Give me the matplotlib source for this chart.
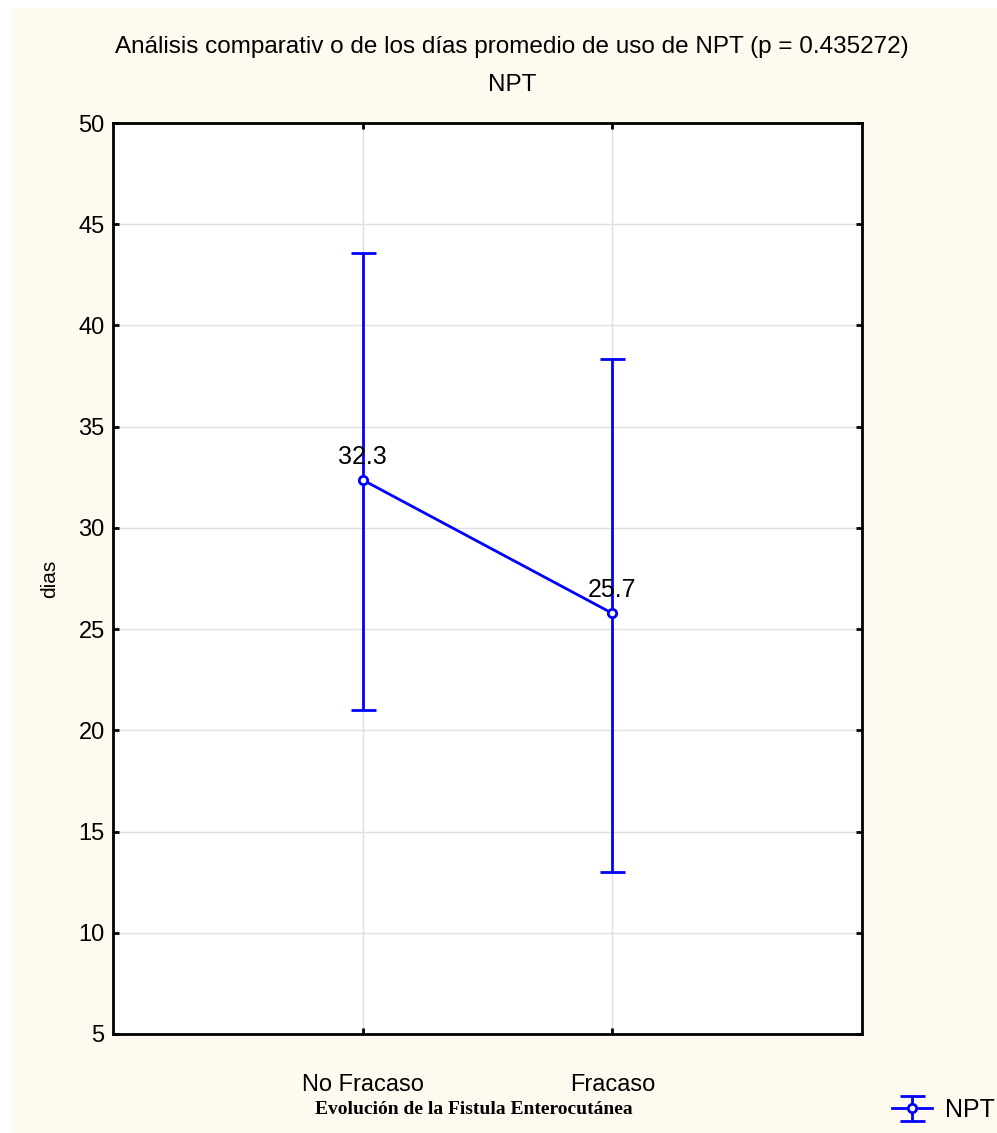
import matplotlib.pyplot as plt
from matplotlib.patches import Rectangle

# data
groups = ["No Fracaso", "Fracaso"]
means = [32.37, 25.78]
lower = [21.0, 13.0]
upper = [43.6, 38.35]
mean_labels = ["32.3", "25.7"]
yticks = [5, 10, 15, 20, 25, 30, 35, 40, 45, 50]

plt.rcParams['font.family'] = ['Liberation Sans', 'DejaVu Sans']

fig = plt.figure(figsize=(9.97, 11.33), dpi=100)
fig.patch.set_facecolor("white")
# cream panel behind everything
fig.patches.append(Rectangle((12 / 997, 0), 1, 1 - 8 / 1133, transform=fig.transFigure,
                             facecolor="#fffaef", edgecolor="none", zorder=-5))

ax = fig.add_axes([113 / 997, 99 / 1133, 749 / 997, 911 / 1133])
ax.set_zorder(1)
ax.set_facecolor("white")

x = list(range(len(groups)))
err_lo = [m - l for m, l in zip(means, lower)]
err_hi = [u - m for m, u in zip(means, upper)]
ax.errorbar(x, means, yerr=[err_lo, err_hi], color="#0000ff", lw=2, capsize=9,
            capthick=2, marker="o", ms=6, mfc="white", mew=2, label="NPT", zorder=3)

for xi, m, lab in zip(x, means, mean_labels):
    ax.text(xi, m + 0.55, lab, ha="center", va="bottom", fontsize=18, color="black")

ax.set_xlim(-1, 2)
ax.set_ylim(5, 50)
ax.set_xticks(x)
ax.set_xticklabels(groups, fontsize=17)
ax.set_yticks(yticks)
ax.tick_params(axis="y", labelsize=17, direction="in", length=4, width=2,
               right=True, pad=6)
ax.tick_params(axis="x", direction="in", length=4, width=2, top=True, pad=29)
ax.grid(True, color="#e0e0e0", lw=1)
ax.set_axisbelow(True)
for s in ax.spines.values():
    s.set_linewidth(2)

ax.set_ylabel("dias", fontsize=15, labelpad=14)

fig.text(512 / 997, 1 - 47 / 1133, "Análisis comparativ o de los días promedio de uso de NPT (p = 0.435272)",
         ha="center", va="center", fontsize=17.5)
fig.text(512 / 997, 1 - 85 / 1133, "NPT", ha="center", va="center", fontsize=17.5)
fig.text(474 / 997, 1 - 1110 / 1133, "Evolución de la Fistula Enterocutánea", ha="center",
         va="center", fontsize=14, fontweight="bold", family="Liberation Serif")

fig.legend(loc="center right", bbox_to_anchor=(1.0, 1 - 1110 / 1133), frameon=False,
           fontsize=18, handlelength=1.6, handletextpad=0.5, borderaxespad=0.0,
           borderpad=0.1)

fig.savefig("out.png", dpi=100)
